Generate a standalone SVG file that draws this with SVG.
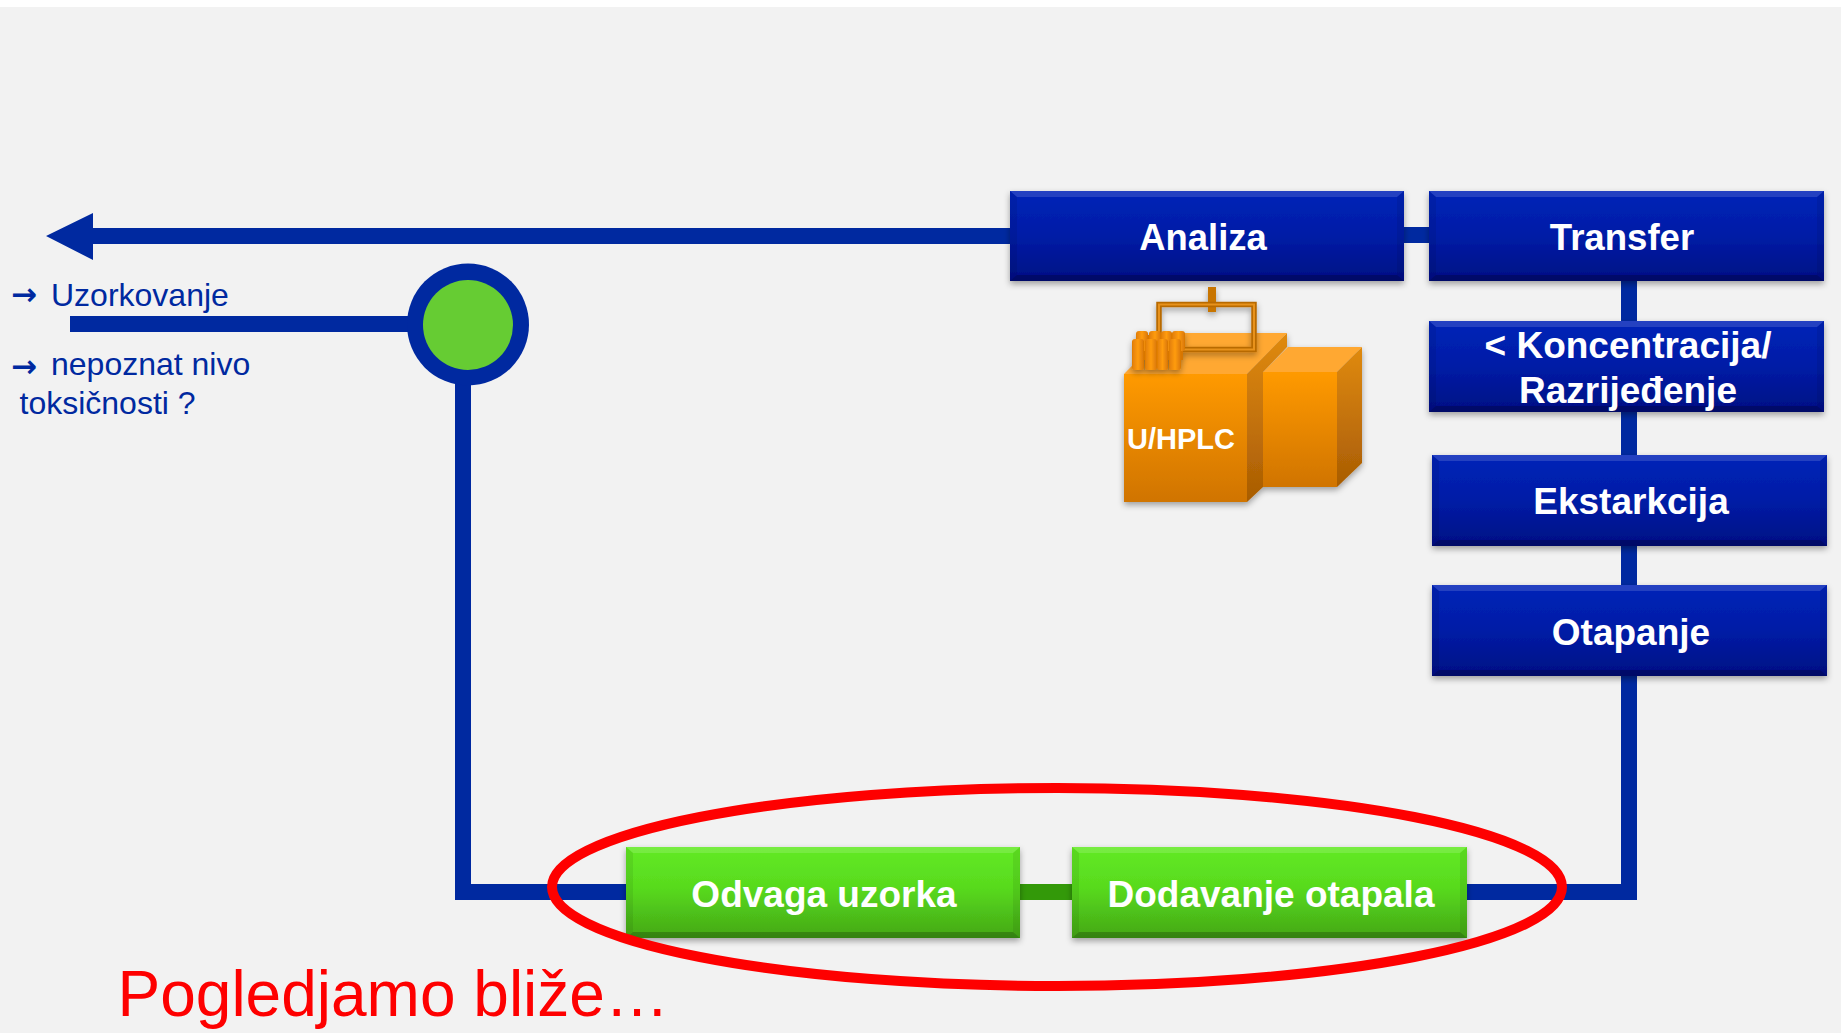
<svg xmlns="http://www.w3.org/2000/svg" width="1841" height="1033" viewBox="0 0 1841 1033">
<style>
.lbl{font-family:"Liberation Sans",Arial,sans-serif;font-weight:700;font-size:37px;fill:#fff;text-anchor:middle}
.txt{font-family:"Liberation Sans",Arial,sans-serif;font-size:32px;fill:#0029a0}
.arr{font-family:"DejaVu Sans",sans-serif;font-weight:700;font-size:31px;fill:#0029a0}
.bl{fill:url(#gb)}.gr{fill:url(#gg)}
.bt{fill:#fff;opacity:.14}.bb{fill:#000;opacity:.22}.bs{fill:#000;opacity:.07}
.ln{fill:#0029a0}
</style>
<defs>
<linearGradient id="gb" x1="0" y1="0" x2="0" y2="1"><stop offset="0" stop-color="#0424b8"/><stop offset=".5" stop-color="#041ca6"/><stop offset="1" stop-color="#000f84"/></linearGradient>
<linearGradient id="gg" x1="0" y1="0" x2="0" y2="1"><stop offset="0" stop-color="#62ea24"/><stop offset=".45" stop-color="#58da1e"/><stop offset="1" stop-color="#44a716"/></linearGradient>
<linearGradient id="o1" x1="0" y1="0" x2="0" y2="1"><stop offset="0" stop-color="#ff9a05"/><stop offset="1" stop-color="#d07406"/></linearGradient>
<linearGradient id="o2" x1="0" y1="0" x2="0" y2="1"><stop offset="0" stop-color="#e08a10"/><stop offset="1" stop-color="#a85c04"/></linearGradient>
<linearGradient id="c1" x1="0" y1="0" x2="1" y2="0"><stop offset="0" stop-color="#e07c04"/><stop offset=".5" stop-color="#ff9c10"/><stop offset="1" stop-color="#d87604"/></linearGradient>
<filter id="sh" x="-10%" y="-20%" width="120%" height="140%"><feDropShadow dx="0" dy="3" stdDeviation="3" flood-color="#000" flood-opacity=".35"/></filter>
</defs>
<rect width="1841" height="1033" fill="#f2f2f2"/>
<rect width="1841" height="7" fill="#fff"/>
<g id="connectors">
<path class="ln" d="M46 236L93 213V228H1020V244H93V260Z"/>
<rect class="ln" x="70" y="316" width="340" height="16"/>
<rect class="ln" x="455" y="380" width="16" height="520"/>
<rect class="ln" x="455" y="884" width="1182" height="16"/>
<rect class="ln" x="1621" y="270" width="16" height="630"/>
<rect class="ln" x="1400" y="227" width="33" height="16"/>
<rect x="1015" y="884" width="60" height="16" fill="#339909"/>
</g>
<g id="junction">
<ellipse cx="468" cy="324.500" rx="61" ry="61" fill="#0029a0"/>
<ellipse cx="468" cy="325" rx="45" ry="45" fill="#66cc33"/>
</g>
<g id="analiza"><g filter="url(#sh)"><rect class="bl" x="1010" y="191" width="394" height="90"/></g>
<path class="bt" d="M1010 191H1404L1397 197H1017Z"/><path class="bb" d="M1010 281H1404L1397 275H1017Z"/><path class="bs" d="M1404 191V281L1397 275V197Z"/><path class="bs" d="M1010 191V281L1017 275V197Z"/>
<text class="lbl" x="1203" y="250" style="font-size:36.400px">Analiza</text></g>
<g id="transfer"><g filter="url(#sh)"><rect class="bl" x="1429" y="191" width="395" height="90"/></g>
<path class="bt" d="M1429 191H1824L1817 197H1436Z"/><path class="bb" d="M1429 281H1824L1817 275H1436Z"/><path class="bs" d="M1824 191V281L1817 275V197Z"/><path class="bs" d="M1429 191V281L1436 275V197Z"/>
<text class="lbl" x="1622" y="250" style="font-size:36.600px">Transfer</text></g>
<g id="razrjedenje"><g filter="url(#sh)"><rect class="bl" x="1429" y="321" width="395" height="91"/></g>
<path class="bt" d="M1429 321H1824L1817 327H1436Z"/><path class="bb" d="M1429 412H1824L1817 406H1436Z"/><path class="bs" d="M1824 321V412L1817 406V327Z"/><path class="bs" d="M1429 321V412L1436 406V327Z"/>
<text class="lbl" x="1628" y="358">&lt; Koncentracija/</text><text class="lbl" x="1628" y="403">Razrijeđenje</text></g>
<g id="ekstrakcija"><g filter="url(#sh)"><rect class="bl" x="1432" y="455" width="395" height="91"/></g>
<path class="bt" d="M1432 455H1827L1820 461H1439Z"/><path class="bb" d="M1432 546H1827L1820 540H1439Z"/><path class="bs" d="M1827 455V546L1820 540V461Z"/><path class="bs" d="M1432 455V546L1439 540V461Z"/>
<text class="lbl" x="1631" y="514">Ekstarkcija</text></g>
<g id="otapanje"><g filter="url(#sh)"><rect class="bl" x="1432" y="585" width="395" height="91"/></g>
<path class="bt" d="M1432 585H1827L1820 591H1439Z"/><path class="bb" d="M1432 676H1827L1820 670H1439Z"/><path class="bs" d="M1827 585V676L1820 670V591Z"/><path class="bs" d="M1432 585V676L1439 670V591Z"/>
<text class="lbl" x="1631" y="645">Otapanje</text></g>
<g id="odvaga"><g filter="url(#sh)"><rect class="gr" x="626" y="847" width="394" height="91"/></g>
<path class="bt" d="M626 847H1020L1013 853H633Z"/><path class="bb" d="M626 938H1020L1013 932H633Z"/><path class="bs" d="M1020 847V938L1013 932V853Z"/><path class="bs" d="M626 847V938L633 932V853Z"/>
<text class="lbl" x="824" y="907">Odvaga uzorka</text></g>
<g id="dodavanje"><g filter="url(#sh)"><rect class="gr" x="1072" y="847" width="395" height="91"/></g>
<path class="bt" d="M1072 847H1467L1460 853H1079Z"/><path class="bb" d="M1072 938H1467L1460 932H1079Z"/><path class="bs" d="M1467 847V938L1460 932V853Z"/><path class="bs" d="M1072 847V938L1079 932V853Z"/>
<text class="lbl" x="1271" y="907">Dodavanje otapala</text></g>
<g id="hplc">
<g filter="url(#sh)">
<path d="M1263 372H1337L1362 347H1288Z" fill="#ffa833"/>
<rect x="1263" y="372" width="74" height="115" fill="url(#o1)"/>
<path d="M1337 372L1362 347V463L1337 487Z" fill="url(#o2)"/>
<path d="M1124 374H1247L1287 333H1164Z" fill="#ffa833"/>
<path d="M1247 374L1287 333V347L1263 372V487L1247 502Z" fill="url(#o2)"/>
<rect x="1124" y="374" width="123" height="128" fill="url(#o1)"/>
</g>
<g filter="url(#sh)">
<rect x="1208" y="287" width="8" height="25" fill="#c87405"/>
<rect x="1159" y="304.500" width="95" height="45" fill="none" stroke="#b86a04" stroke-width="5.500"/>
<rect x="1159" y="304.500" width="95" height="45" fill="none" stroke="#e8921a" stroke-width="2"/>
<path d="M1138 335H1183V360H1138Z" fill="#d87604"/>
<g fill="url(#c1)">
<rect x="1136" y="331" width="12" height="20" rx="3"/><rect x="1149" y="331" width="12" height="20" rx="3"/><rect x="1161" y="331" width="11" height="20" rx="3"/><rect x="1172" y="331" width="13" height="20" rx="3"/>
<rect x="1132" y="339" width="12" height="31" rx="3"/><rect x="1145" y="339" width="12" height="31" rx="3"/><rect x="1157" y="339" width="11" height="31" rx="3"/><rect x="1169" y="339" width="12" height="31" rx="3"/>
</g></g>
<text x="1127" y="449" font-family="'Liberation Sans',Arial,sans-serif" font-weight="700" font-size="29" fill="#fff">U/HPLC</text>
</g>
<g id="notes">
<text class="arr" x="11" y="305">→</text><text class="txt" x="51" y="306">Uzorkovanje</text>
<text class="arr" x="11" y="377">→</text><text class="txt" x="51" y="375">nepoznat nivo</text>
<text class="txt" x="19.500" y="414">toksičnosti ?</text>
</g>
<ellipse id="highlight" cx="1057" cy="887" rx="505" ry="99" fill="none" stroke="#fe0000" stroke-width="10"/>
<text id="caption" x="117.500" y="1016" font-family="'Liberation Sans',Arial,sans-serif" font-size="64" fill="#fe0000">Pogledjamo bliže…</text>
</svg>
